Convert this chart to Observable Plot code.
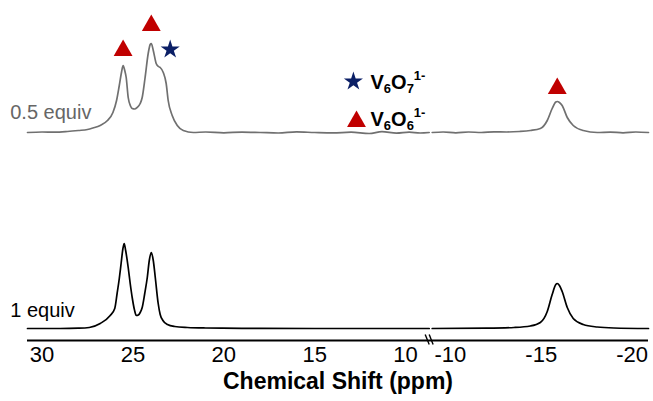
<!DOCTYPE html>
<html>
<head>
<meta charset="utf-8">
<script src="https://cdn.jsdelivr.net/npm/d3@7"></script>
<script src="https://cdn.jsdelivr.net/npm/@observablehq/plot@0.6"></script>
<style>
  html, body { margin: 0; padding: 0; background: #fff; }
  #chart svg { display: block; }
</style>
</head>
<body>
<div id="chart"></div>
<script>
// ---- data ----
const ppmTicks = [30, 25, 20, 15, 10, -10, -15, -20];
const axisTitle = "Chemical Shift (ppm)";
const traceNames = ["0.5 equiv", "1 equiv"];
const traceOffset = [196, 0];
// broken axis: left part 30.8 → 8.7 ppm, right part -9 → -20.9 ppm
const leftDomain = [30.8, 8.7];
const rightDomain = [-9, -20.9];
const breakGap = 0.165; // gap between the two parts, in ppm units

// 0.5 equiv, left part of the broken axis
const upperLeftPpm = [30.8, 30.0, 29.3, 28.6, 28.0, 27.5, 27.2, 26.8, 26.4, 26.1, 25.9, 25.75, 25.62, 25.54, 25.45, 25.37, 25.26, 25.12, 25.04, 24.9, 24.77, 24.6, 24.49, 24.33, 24.16, 24.05, 23.99, 23.88, 23.72, 23.6, 23.5, 23.33, 23.17, 23.06, 22.84, 22.56, 22.23, 21.68, 21.0, 20.0, 19.0, 18.0, 17.0, 16.0, 15.0, 14.0, 13.0, 12.0, 11.3, 10.5, 9.8, 9.2, 8.7];
const upperLeftInt = [0, 0.5, 0.3, 1, 2, 3, 4.5, 7, 12, 20, 32, 47, 61, 67, 62, 55, 35, 26, 24, 23.5, 25, 29, 35, 55, 79, 88, 89, 82, 69, 66, 65, 60, 49, 32, 17, 7, 2, 0, 0.5, -0.3, 0.4, 0, -0.5, 0.6, 0, -0.4, 0.3, -1, 0.8, -0.6, 0.4, -0.5, 0];
// 0.5 equiv, right part
const upperRightPpm = [-9, -9.6, -10.3, -11, -11.7, -12.4, -13.1, -13.8, -14.4, -14.95, -15.33, -15.6, -15.8, -15.88, -16.0, -16.15, -16.43, -16.76, -17.31, -18.08, -18.8, -19.5, -20.2, -20.9];
const upperRightInt = [0, 0.5, -0.4, 0.5, 0, 0.6, 0.5, 1, 2, 4, 12, 24, 30.5, 31, 30, 27, 15, 7, 2, 0, 0.4, -0.3, 0.5, 0];
// 1 equiv, left part
const lowerLeftPpm = [30.8, 29.0, 28.0, 27.4, 26.8, 26.25, 26.0, 25.87, 25.75, 25.65, 25.55, 25.48, 25.4, 25.26, 25.15, 25.04, 24.92, 24.82, 24.7, 24.6, 24.49, 24.35, 24.21, 24.1, 23.99, 23.88, 23.77, 23.61, 23.5, 23.35, 23.1, 22.7, 22.0, 21.0, 19.0, 15.0, 8.7];
const lowerLeftInt = [0, 0, 0.3, 1, 5, 13, 20, 35, 50, 65, 80, 85, 78, 61, 45, 31, 19, 13, 13.5, 16, 21, 35, 51, 68, 76, 68, 51, 25, 14, 8, 4, 2, 1, 0.5, 0.2, 0, 0];
// 1 equiv, right part
const lowerRightPpm = [-9, -12, -13.5, -14.4, -14.95, -15.33, -15.6, -15.8, -15.88, -16.0, -16.15, -16.43, -16.76, -17.31, -18.08, -19.0, -20.9];
const lowerRightInt = [0, 0.3, 1, 2.5, 6, 17, 34, 44, 45, 43, 37, 21, 10, 4, 1.5, 0.5, 0];

// peak markers
const markerPpm = [25.54, 23.99, -15.88, 22.95];
const markerInt = [278, 303, 240, 279];
const markerSymbol = ["triangle", "triangle", "triangle", "star"];

// legend
const legendPpm = [12.87, 12.7];
const legendInt = [247, 207];
const legendSymbol = ["star", "triangle"];
const legendLabels = ["V_{6}O_{7}^{1-}", "V_{6}O_{6}^{1-}"];
const legendTextPpm = 11.93;
const legendTextInt = [246, 209];

// trace labels position
const traceLabelPpm = 31.75;
const traceLabelInt = [216, 18];

// axis break marks
const breakX1 = [8.92, 8.7];
const breakX2 = [8.7, -9.05];

// ---- broken-axis coordinate: continuous position u ----
const rightShift = leftDomain[1] - rightDomain[0] - breakGap;
const toU = p => (p >= 0 ? p : p + rightShift);
const uDomain = [toU(leftDomain[0]), toU(rightDomain[1])];
const tickU = ppmTicks.map(toU);
const tickLabel = new Map(tickU.map((u, i) => [u, String(ppmTicks[i])]));

// ---- build tables ----
const colors = {tri: "#c00000", star: "#0b1f66", upper: "#707070", lower: "#000000"};
function seg(ppm, ints, off) { return ppm.map((p, i) => ({u: toU(p), y: ints[i] + off})); }
const upperL = seg(upperLeftPpm, upperLeftInt, traceOffset[0]);
const upperR = seg(upperRightPpm, upperRightInt, traceOffset[0]);
const lowerL = seg(lowerLeftPpm, lowerLeftInt, traceOffset[1]);
const lowerR = seg(lowerRightPpm, lowerRightInt, traceOffset[1]);
const markers = markerPpm.map((p, i) => ({u: toU(p), y: markerInt[i], symbol: markerSymbol[i]}));
const legendDots = legendPpm.map((p, i) => ({u: toU(p), y: legendInt[i], symbol: legendSymbol[i]}));
const legendText = legendLabels.map((t, i) => ({u: toU(legendTextPpm), y: legendTextInt[i], t}));
const traceLabels = traceNames.map((t, i) => ({u: toU(traceLabelPpm), y: traceLabelInt[i], t, c: i === 0 ? "#666666" : "#000000"}));
const breaks = breakX1.map((x1, i) => ({x1: toU(x1), x2: toU(breakX2[i]), y1: -6, y2: -16}));

const font = "'Liberation Sans', Arial, Helvetica, sans-serif";
const lineOpts = {x: "u", y: "y", strokeWidth: 1.7, curve: "monotone-x"};

const chart = Plot.plot({
  width: 653,
  height: 401,
  marginLeft: 27,
  marginRight: 5,
  marginTop: 0,
  marginBottom: 61,
  style: {fontFamily: font, background: "#fff", color: "#000"},
  x: {domain: uDomain, label: null},
  y: {domain: [-12, 328], range: [340, 0], axis: null},
  marks: [
    Plot.ruleY([-12], {stroke: "#000", strokeWidth: 2}),
    Plot.link(breaks, {x1: "x1", x2: "x2", y1: "y1", y2: "y2", stroke: "#000", strokeWidth: 1.4}),
    Plot.line(upperL, {...lineOpts, stroke: colors.upper}),
    Plot.line(upperR, {...lineOpts, stroke: colors.upper}),
    Plot.line(lowerL, {...lineOpts, stroke: colors.lower}),
    Plot.line(lowerR, {...lineOpts, stroke: colors.lower}),
    Plot.dot(markers.filter(d => d.symbol === "triangle"), {x: "u", y: "y", symbol: "triangle", r: 7, fill: colors.tri}),
    Plot.dot(markers.filter(d => d.symbol === "star"), {x: "u", y: "y", symbol: "star", r: 6, fill: colors.star}),
    Plot.dot(legendDots.filter(d => d.symbol === "triangle"), {x: "u", y: "y", symbol: "triangle", r: 7, fill: colors.tri}),
    Plot.dot(legendDots.filter(d => d.symbol === "star"), {x: "u", y: "y", symbol: "star", r: 6, fill: colors.star}),
    Plot.text(legendText, {x: "u", y: "y", text: "t", textAnchor: "start", fontSize: 20, fontWeight: "bold", fill: "#000", className: "chem"}),
    Plot.text(traceLabels, {x: "u", y: "y", text: "t", textAnchor: "start", fontSize: 20, fill: "c"}),
    Plot.axisX({ticks: tickU, tickSize: 0, tickPadding: 6, fontSize: 22, tickFormat: u => tickLabel.get(u) ?? "", label: null}),
    Plot.text([axisTitle], {frameAnchor: "bottom", dy: 48, dx: 0, fontSize: 23, fontWeight: "bold", fill: "#000"})
  ]
});
document.getElementById("chart").appendChild(chart);

// rich text for sub/superscripts
d3.select(chart).selectAll(".chem text").each(function () {
  const s = this.textContent;
  const el = d3.select(this);
  el.text(null);
  const re = /([_^])\{([^}]*)\}|([^_^{}]+)/g;
  let m, shift = 0;
  while ((m = re.exec(s))) {
    let target = 0, size = null, str;
    if (m[1] === "_") { target = 4; size = 13; str = m[2]; }
    else if (m[1] === "^") { target = -9; size = 13; str = m[2]; }
    else { str = m[3]; }
    const ts = el.append("tspan").attr("dy", target - shift).text(str);
    if (size) ts.attr("font-size", size);
    shift = target;
  }
});
</script>
</body>
</html>
